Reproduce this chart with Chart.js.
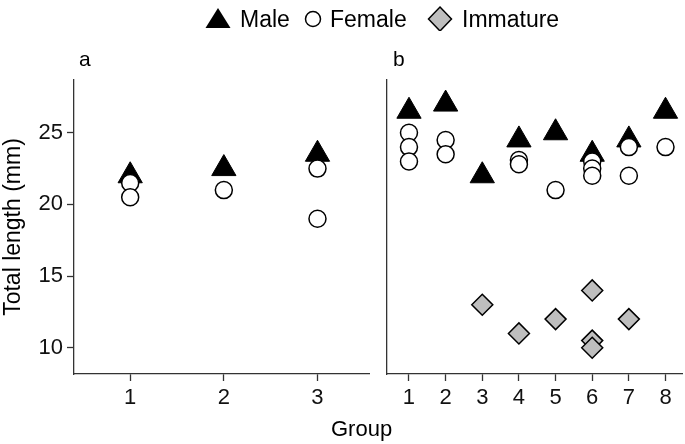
<!DOCTYPE html>
<html>
<head>
<meta charset="utf-8">
<script src="https://cdn.jsdelivr.net/npm/chart.js@4.4.1/dist/chart.umd.min.js"></script>
<style>
  body { margin: 0; background: #fff; font-family: "Liberation Sans", Arial, sans-serif; }
  #wrap { position: relative; width: 685px; height: 444px; overflow: hidden; }
  canvas { position: absolute; top: 0; }
  #chartA { left: 0; }
  #chartB { left: 380px; }
  .txt { position: absolute; color: #000; white-space: nowrap; line-height: 1; }
  .legend { position: absolute; top: 5px; height: 26px; }
  .legend svg { position: absolute; top: 0; }
  .legend span { position: absolute; top: 1px; font-size: 23px; }
</style>
</head>
<body>
<div id="wrap">
  <canvas id="chartA" width="372" height="444"></canvas>
  <canvas id="chartB" width="305" height="444"></canvas>

  <div class="legend" style="left:0;width:685px">
    <svg style="left:204px" width="28" height="26"><polygon points="14,3 26.5,23 1.5,23" fill="#000"/></svg>
    <span style="left:240px">Male</span>
    <svg style="left:303px" width="20" height="26"><circle cx="10" cy="14" r="7.5" fill="#fff" stroke="#000" stroke-width="1.5"/></svg>
    <span style="left:330px">Female</span>
    <svg style="left:427px" width="26" height="26"><polygon points="13,2 24.5,14 13,26 1.5,14" fill="#bebebe" stroke="#000" stroke-width="1.5"/></svg>
    <span style="left:462px">Immature</span>
  </div>

  <div class="txt" style="left:79px;top:48px;font-size:21px">a</div>
  <div class="txt" style="left:393px;top:48px;font-size:21px">b</div>
  <div class="txt" style="left:331px;top:418px;font-size:22px">Group</div>
</div>

<script>
  // groups and axis ticks
  const groupsA = [1, 2, 3];
  const groupsB = [1, 2, 3, 4, 5, 6, 7, 8];
  const yTicks = [10, 15, 20, 25];

  // panel a
  const maleAx = [1, 2, 3];
  const maleAy = [22, 22.5, 23.5];
  const femaleAx = [1, 1, 2, 3, 3];
  const femaleAy = [21.5, 20.5, 21, 22.5, 19];

  // panel b
  const maleBx = [1, 2, 3, 4, 5, 6, 7, 8];
  const maleBy = [26.5, 27, 22, 24.5, 25, 23.5, 24.5, 26.5];
  const femaleBx = [1, 1, 1, 2, 2, 4, 4, 5, 6, 6, 6, 7, 7, 8];
  const femaleBy = [25, 24, 23, 24.5, 23.5, 23.1, 22.8, 21, 23, 22.5, 22, 24, 22, 24];
  const immatureBx = [3, 4, 5, 6, 6, 6, 7];
  const immatureBy = [13, 11, 12, 14, 10.5, 10, 12];

  const axisColor = "#333";
  const fontFamily = "'Liberation Sans', Arial, sans-serif";

  function pts(xs, ys) {
    return xs.map((x, i) => ({ x: x, y: ys[i] }));
  }

  function maleSet(xs, ys) {
    return {
      label: "Male", data: pts(xs, ys), order: 2,
      pointStyle: "triangle", pointRadius: 14, pointHoverRadius: 14,
      backgroundColor: "#000", borderColor: "#000", borderWidth: 1
    };
  }
  function femaleSet(xs, ys) {
    return {
      label: "Female", data: pts(xs, ys), order: 1,
      pointStyle: "circle", pointRadius: 8.5, pointHoverRadius: 8.5,
      backgroundColor: "#fff", borderColor: "#000", borderWidth: 1.5
    };
  }
  function immatureSet(xs, ys) {
    return {
      label: "Immature", data: pts(xs, ys), order: 3,
      pointStyle: "rectRot", pointRadius: 10.5, pointHoverRadius: 10.5,
      backgroundColor: "#bebebe", borderColor: "#000", borderWidth: 1.5
    };
  }

  function xScale(groups, max) {
    return {
      type: "linear", min: 0.4, max: max,
      afterBuildTicks: (axis) => { axis.ticks = groups.map((v) => ({ value: v })); },
      afterFit: (axis) => { axis.height = 70; },
      grid: { display: true, drawOnChartArea: false, drawTicks: true, tickLength: 7, tickColor: axisColor, tickWidth: 1.3 },
      border: { display: true, color: axisColor, width: 1.3 },
      ticks: { color: "#111", padding: 4, font: { family: fontFamily, size: 22 }, maxRotation: 0 }
    };
  }

  const yMin = 8.17, yMax = 28.68;

  function makeChart(id, datasets, groups, xMax, showY) {
    return new Chart(document.getElementById(id), {
      type: "scatter",
      data: { datasets: datasets },
      options: {
        responsive: false,
        animation: false,
        events: [],
        layout: { autoPadding: false, padding: { top: 80, right: 3, left: 0, bottom: 0 } },
        plugins: { legend: { display: false }, tooltip: { enabled: false } },
        scales: {
          x: xScale(groups, xMax),
          y: {
            type: "linear", min: yMin, max: yMax,
            afterBuildTicks: (axis) => { axis.ticks = yTicks.map((v) => ({ value: v })); },
            afterFit: (axis) => { axis.width = showY ? 74 : 7; },
            grid: { display: showY, drawOnChartArea: false, drawTicks: true, tickLength: 7, tickColor: axisColor, tickWidth: 1.3 },
            border: { display: true, color: axisColor, width: 1.3 },
            ticks: { display: showY, color: "#111", padding: 4, font: { family: fontFamily, size: 22 } },
            title: {
              display: showY, text: "Total length (mm)", color: "#000",
              padding: 0, font: { family: fontFamily, size: 23 }
            }
          }
        }
      }
    });
  }

  makeChart("chartA", [
    maleSet(maleAx, maleAy),
    femaleSet(femaleAx, femaleAy)
  ], groupsA, 3.55, true);

  makeChart("chartB", [
    maleSet(maleBx, maleBy),
    femaleSet(femaleBx, femaleBy),
    immatureSet(immatureBx, immatureBy)
  ], groupsB, 8.45, false);
</script>
</body>
</html>
